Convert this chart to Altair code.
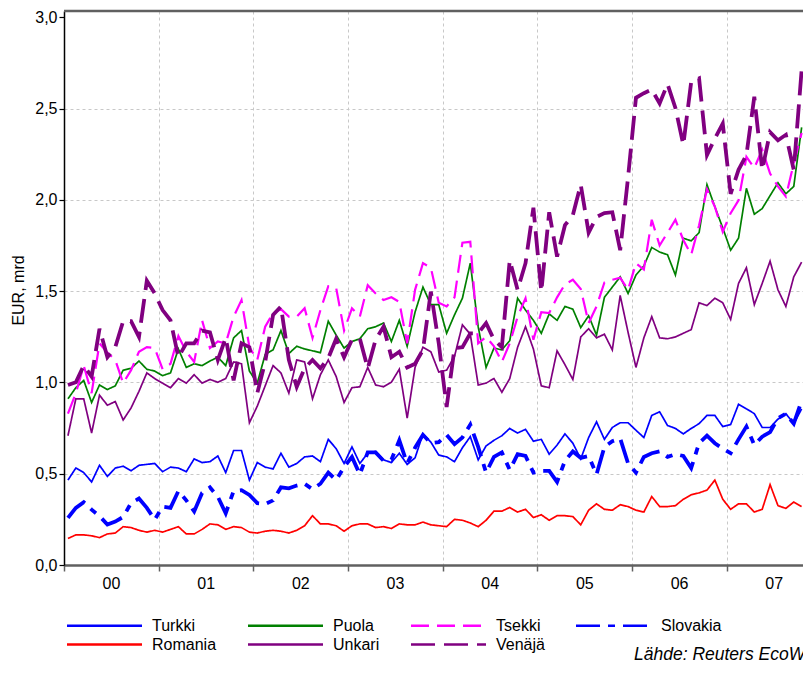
import altair as alt
import pandas as pd

# ---- data (monthly, Jan 2000 - Oct 2007), EUR bn ----
turkki = [0.465,0.531,0.506,0.455,0.546,0.485,0.531,0.541,0.516,0.546,0.551,0.556,
0.511,0.536,0.531,0.511,0.581,0.561,0.566,0.597,0.506,0.627,0.627,0.465,
0.561,0.536,0.526,0.612,0.536,0.556,0.592,0.597,0.566,0.688,0.637,0.556,
0.647,0.556,0.612,0.622,0.576,0.561,0.612,0.551,0.587,0.718,0.673,0.602,
0.592,0.566,0.642,0.703,0.576,0.652,0.683,0.708,0.748,0.723,0.743,0.678,
0.688,0.607,0.657,0.718,0.667,0.581,0.698,0.784,0.688,0.753,0.779,0.779,
0.738,0.698,0.819,0.839,0.764,0.748,0.718,0.748,0.774,0.819,0.819,0.758,
0.769,0.88,0.855,0.829,0.753,0.753,0.799,0.829,0.774,0.855]

romania = [0.145,0.165,0.165,0.16,0.15,0.17,0.175,0.21,0.205,0.19,0.18,0.19,
0.18,0.195,0.21,0.17,0.17,0.195,0.225,0.22,0.195,0.21,0.205,0.18,
0.175,0.185,0.19,0.185,0.175,0.19,0.215,0.27,0.225,0.225,0.215,0.185,
0.215,0.225,0.225,0.205,0.21,0.20,0.225,0.22,0.22,0.235,0.22,0.215,
0.21,0.25,0.245,0.23,0.21,0.245,0.295,0.295,0.315,0.29,0.305,0.26,
0.275,0.245,0.27,0.27,0.265,0.22,0.30,0.335,0.305,0.30,0.33,0.32,
0.30,0.29,0.375,0.32,0.32,0.325,0.36,0.385,0.395,0.41,0.465,0.36,
0.305,0.335,0.335,0.29,0.305,0.44,0.325,0.31,0.345,0.32]

puola = [0.91,0.971,1.011,0.89,0.986,0.961,0.981,1.067,1.077,1.117,1.072,1.062,
1.037,1.052,1.183,1.082,1.102,1.092,1.117,1.138,1.092,1.244,1.284,1.062,
0.996,1.153,1.178,1.284,1.158,1.198,1.183,1.173,1.163,1.335,1.259,1.188,
1.224,1.239,1.294,1.305,1.325,1.224,1.34,1.198,1.385,1.522,1.426,1.426,
1.269,1.37,1.461,1.653,1.305,1.082,1.188,1.178,1.229,1.461,1.396,1.34,
1.269,1.375,1.34,1.416,1.401,1.30,1.365,1.259,1.466,1.522,1.578,1.487,
1.588,1.638,1.739,1.714,1.699,1.588,1.79,1.775,1.82,2.083,1.962,1.846,
1.724,1.79,2.063,1.921,1.952,2.023,2.093,2.033,2.073,2.397]

tsekki = [0.829,0.941,1.092,0.941,1.214,1.163,1.123,0.996,1.067,1.168,1.193,1.188,
1.072,1.102,1.254,1.168,1.112,1.34,1.188,1.224,1.214,1.36,1.451,1.193,
1.123,1.305,1.38,1.401,1.36,1.36,1.406,1.244,1.396,1.527,1.517,1.284,
1.406,1.36,1.532,1.487,1.451,1.466,1.441,1.214,1.507,1.653,1.628,1.436,
1.416,1.466,1.765,1.77,1.214,1.249,1.198,1.112,1.214,1.36,1.461,1.234,
1.385,1.38,1.466,1.537,1.562,1.512,1.325,1.416,1.547,1.562,1.573,1.507,
1.653,1.618,1.891,1.75,1.82,1.891,1.78,1.699,1.861,2.058,1.962,1.825,
1.927,1.997,2.235,2.174,2.275,2.144,2.073,2.018,2.2,2.366]

slovakia = [0.258,0.313,0.344,0.303,0.268,0.222,0.238,0.263,0.339,0.364,0.313,0.248,
0.319,0.313,0.405,0.354,0.293,0.394,0.425,0.374,0.283,0.405,0.41,0.384,
0.339,0.334,0.354,0.425,0.42,0.435,0.445,0.415,0.445,0.506,0.465,0.536,
0.592,0.496,0.617,0.617,0.571,0.576,0.683,0.556,0.642,0.713,0.667,0.673,
0.713,0.662,0.698,0.769,0.647,0.506,0.592,0.617,0.521,0.607,0.597,0.506,
0.516,0.516,0.455,0.571,0.622,0.587,0.597,0.496,0.647,0.678,0.693,0.556,
0.506,0.592,0.612,0.622,0.592,0.607,0.597,0.531,0.667,0.708,0.667,0.637,
0.612,0.688,0.758,0.657,0.703,0.728,0.804,0.829,0.774,0.90]

unkari = [0.708,0.91,0.91,0.723,0.93,0.875,0.895,0.794,0.86,0.951,1.052,1.021,
0.996,0.971,1.021,0.996,1.042,0.996,1.016,1.001,1.021,1.112,1.102,0.779,
0.87,0.981,1.092,1.052,0.941,1.123,1.112,0.91,1.042,1.123,1.032,0.89,
0.971,0.976,1.082,0.986,0.976,1.001,1.072,0.804,1.082,1.193,1.168,1.057,
1.067,1.143,1.315,1.264,0.986,0.996,1.021,0.946,1.021,1.193,1.305,1.183,
0.981,0.971,1.173,1.097,1.016,1.249,1.294,1.244,1.264,1.178,1.476,1.274,
1.082,1.244,1.36,1.244,1.239,1.249,1.269,1.289,1.436,1.421,1.461,1.436,
1.345,1.542,1.628,1.426,1.542,1.664,1.507,1.416,1.578,1.659]

venaja = [0.986,1.001,1.092,1.032,1.294,1.138,1.193,1.335,1.335,1.249,1.557,1.487,
1.396,1.34,1.138,1.214,1.214,1.284,1.274,1.123,1.244,1.011,1.214,1.193,
0.941,1.112,1.37,1.416,1.123,0.976,1.077,1.123,1.077,1.133,1.239,1.138,
1.234,1.239,1.077,1.234,1.305,1.138,1.168,1.082,1.102,1.178,1.497,1.214,
0.865,1.188,1.193,1.269,1.269,1.325,1.234,1.193,1.669,1.507,1.653,1.957,
1.497,1.932,1.689,1.861,1.916,2.083,1.82,1.906,1.927,1.932,1.724,2.124,
2.559,2.584,2.604,2.528,2.634,2.503,2.301,2.645,2.665,2.245,2.336,2.417,
2.033,2.164,2.245,2.564,2.164,2.371,2.326,2.356,2.164,2.71]

series_names = ["Turkki", "Puola", "Tsekki", "Slovakia", "Romania", "Unkari", "Venäjä"]
series_values = [turkki, puola, tsekki, slovakia, romania, unkari, venaja]
colors = ["#0000ff", "#008000", "#ff00ff", "#0000ff", "#ff0000", "#800080", "#800080"]
dashes = [[1, 0], [1, 0], [18, 8], [24, 8, 7, 8], [1, 0], [1, 0], [24, 9]]
widths = [1.7, 1.7, 2.2, 3.8, 1.7, 1.7, 3.8]
year_ticks = [2000, 2001, 2002, 2003, 2004, 2005, 2006, 2007]
y_ticks = [0, 0.5, 1.0, 1.5, 2.0, 2.5, 3.0]
Y_MAX = 3.034
source_text = "Lähde: Reuters EcoWin"

rows = []
for name, vals, w in zip(series_names, series_values, widths):
    for i, v in enumerate(vals):
        rows.append({"series": name, "t": 2000 + (i + 0.5) / 12.0, "v": v,
                     "order": i, "w": w})
df = pd.DataFrame(rows)

FONT = "Liberation Sans"

x_scale = alt.Scale(domain=[2000, 2007.806], nice=False, zero=False)
y_scale = alt.Scale(domain=[0, Y_MAX], nice=False)

# legend symbol: a 75 px horizontal line drawn as a custom path on a small symbol size
legend = alt.Legend(
    title=None, orient="none", legendX=3, legendY=605, direction="horizontal",
    columns=4, columnPadding=26, rowPadding=1, gridAlign="each",
    symbolType="M-4.6875,0H4.6875", symbolSize=256, symbolOffset=28,
    labelOffset=38, symbolStrokeWidth=2.5,
    labelFontSize=16, labelFont=FONT, labelColor="#000000",
    padding=0, symbolLimit=0)

lines = alt.Chart(df).mark_line(clip=True).encode(
    x=alt.X("t:Q", scale=x_scale, axis=alt.Axis(
        values=year_ticks, title=None, labelExpr="slice(toString(datum.value), 2)",
        labelOffset=47, labelFlush=False, labelFontSize=16, labelFont=FONT,
        labelColor="#000000", labelPadding=4,
        grid=True, gridDash=[3, 3], gridColor="#c8c8c8", gridWidth=1,
        domainColor="#606060", domainWidth=2.5, tickColor="#606060",
        tickSize=6, tickWidth=1.5)),
    y=alt.Y("v:Q", scale=y_scale, axis=alt.Axis(
        values=y_ticks, title="EUR, mrd", titleFont=FONT, titleFontSize=16,
        titleFontWeight="normal", titleColor="#000000",
        titleX=-46, titleY=279, titleAngle=270, titleAlign="center", titleBaseline="middle",
        labelExpr="replace(format(datum.value, '.1f'), '.', ',')",
        labelFontSize=16, labelFont=FONT, labelColor="#000000", labelPadding=2,
        grid=True, gridDash=[3, 3], gridColor="#c8c8c8", gridWidth=1,
        gridOpacity=alt.condition("datum.value >= 3", alt.value(0), alt.value(1)),
        domainColor="#000000", domainWidth=1.5, tickColor="#000000",
        tickSize=5, tickWidth=1.2)),
    color=alt.Color("series:N", scale=alt.Scale(domain=series_names, range=colors),
                    legend=legend),
    strokeDash=alt.StrokeDash("series:N", scale=alt.Scale(domain=series_names, range=dashes),
                              legend=legend),
    strokeWidth=alt.StrokeWidth("w:Q", scale=None, legend=None),
    detail="series:N",
    order="order:Q",
)

top_rule = alt.Chart(pd.DataFrame({"y": [Y_MAX]})).mark_rule(
    color="#606060", strokeWidth=2.5).encode(
    y=alt.Y("y:Q", scale=y_scale))

source = alt.Chart(pd.DataFrame({"txt": [source_text]})).mark_text(
    align="left", baseline="alphabetic", fontStyle="italic", fontSize=17.5,
    font=FONT, color="#000000").encode(
    x=alt.value(570), y=alt.value(649), text="txt:N")

chart = alt.layer(lines, top_rule, source).properties(
    width=739, height=554,
    padding={"left": 56, "top": 3, "right": 0, "bottom": 96},
    autosize=alt.AutoSizeParams(type="none"),
).configure(font=FONT).configure_view(stroke=None)

chart.save("out.html", embed_options={"renderer": "svg", "actions": False})
